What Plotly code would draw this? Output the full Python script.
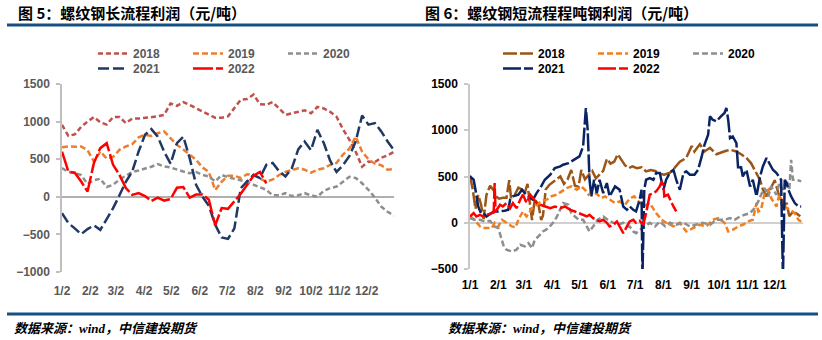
import pandas as pd
import plotly.graph_objects as go

# ---------------- data ----------------
YEARS = ["2018", "2019", "2020", "2021", "2022"]

# Left chart (图5): weekly readings starting 1/2
L_START = "2022-01-02"
L_2018 = [957, 810, 830, 930, 1000, 1060, 990, 960, 1060, 1060, 980, 1040, 1040, 1050, 1060, 1070, 1090, 1240,
          1210, 1260, 1220, 1175, 1130, 1090, 1050, 1050, 1070, 1180, 1290, 1300, 1360, 1230, 1225, 1260, 1180,
          1090, 1110, 1130, 1150, 1110, 1195, 1175, 1130, 1065, 900, 760, 600, 400, 470, 460, 520, 550, 600]
L_2019 = [660, 669, 665, 669, 620, 470, 600, 510, 530, 625, 669, 700, 790, 824, 810, 846, 870, 780, 690, 630,
          560, 492, 390, 330, 90, 200, 280, 280, 250, 300, 290, 250, 200, 230, 290, 330, 350, 380, 360, 320,
          360, 380, 425, 450, 560, 640, 800, 600, 500, 440, 420, 360, 370]
L_2020 = [381, 330, 314, 290, 170, 220, 240, 130, 160, 230, 280, 330, 350, 370, 400, 434, 403, 390, 359, 336,
          314, 330, 292, 270, 204, 290, 260, 240, 210, 200, 160, 130, 93, 20, 20, 48, 10, 20, 48, 20,
          0, 80, 115, 137, 200, 265, 250, 180, 93, -10, -130, -200, -250]
L_2021 = [-218, -350, -420, -497, -430, -380, -440, -300, -151, 20, 200, 336, 603, 824, 900, 800, 600, 440,
          713, 800, 514, 160, 0, -120, -373, -540, -560, -420, 115, 204, 292, 250, 425, 450, 340, 270, 380,
          630, 735, 620, 890, 715, 480, 330, 420, 540, 735, 1080, 960, 980, 870, 735, 620]
L_2022 = [600, 336, 320, 204, 70, 450, 647, 713, 425, 292, 115, 26, 50, 10, -55, -10, -50, -30, 120, 130,
          -10, 30, 30, -40, -380, -150, -160, -60, 40, 160, 280, 330, 180] + [None] * 20
L_TICK_DATES = ["2022-01-02", "2022-02-02", "2022-03-02", "2022-04-02", "2022-05-02", "2022-06-02",
                "2022-07-02", "2022-08-02", "2022-09-02", "2022-10-02", "2022-11-02", "2022-12-02"]
L_TICK_TEXT = ["1/2", "2/2", "3/2", "4/2", "5/2", "6/2", "7/2", "8/2", "9/2", "10/2", "11/2", "12/2"]

# Right chart (图6): readings as (day of year offset, value)
R_START = "2022-01-01"
R_2018_DAYS = [0, 3, 6, 9, 12, 15, 18, 22, 26, 29, 32, 36, 40, 43, 45, 49, 53, 57, 60, 63, 66, 68, 71, 75, 78,
               80, 83, 87, 91, 95, 99, 103, 107, 111, 115, 119, 122, 126, 130, 134, 138, 142, 146, 150, 154,
               158, 162, 166, 170, 174, 178, 183, 188, 193, 198, 203, 208, 213, 219, 224, 230, 237, 243, 246,
               252, 257, 263, 270, 275, 280, 285, 292, 298, 303, 308, 312, 318, 321, 325, 329, 334, 338, 343,
               347, 350, 354, 358, 362]
R_2018_VALS = [510, 360, 150, 300, 200, 40, 300, 400, 350, 280, 260, 270, 270, 460, 270, 300, 380, 360, 320,
               420, 180, 30, 250, 200, 30, 80, 360, 410, 440, 470, 500, 420, 470, 570, 400, 390, 570, 470, 520,
               560, 480, 520, 560, 690, 640, 660, 740, 680, 620, 590, 610, 590, 600, 555, 570, 560, 530, 520,
               540, 590, 660, 700, 830, 770, 850, 770, 810, 740, 760, 775, 790, 770, 735, 700, 645, 570, 460,
               360, 285, 360, 460, 320, 160, 215, 70, 120, 100, 70]
R_2019_DAYS = [0, 5, 11, 16, 24, 27, 31, 35, 40, 46, 50, 53, 58, 62, 68, 73, 78, 84, 89, 95, 100, 106, 111,
               117, 122, 126, 130, 135, 140, 144, 148, 153, 159, 164, 170, 175, 180, 185, 190, 197, 204, 210,
               215, 223, 230, 237, 245, 252, 259, 266, 272, 279, 283, 288, 294, 299, 305, 310, 314, 316, 319,
               323, 327, 330, 336, 339, 345, 350, 356, 360, 363]
R_2019_VALS = [68, 32, -40, -58, -58, 0, -40, 32, 0, -40, -50, 32, 122, 68, 158, 194, 230, 249, 285, 303, 339,
               375, 393, 357, 393, 357, 303, 339, 303, 267, 285, 249, 213, 230, 194, 260, 285, 230, 176, 213,
               104, 32, 0, -40, 0, -94, -58, -22, -40, 32, 50, 0, -94, -76, -40, -22, 14, 32, 213, 122, 140,
               321, 357, 267, 176, 303, 176, 140, 104, 32, 14]
R_2020_DAYS = [0, 5, 11, 16, 22, 27, 31, 35, 37, 40, 46, 51, 55, 60, 64, 68, 71, 75, 80, 86, 91, 95, 99, 102,
               108, 111, 115, 119, 124, 128, 131, 135, 140, 146, 151, 157, 162, 168, 173, 175, 179, 182, 187,
               192, 197, 203, 208, 214, 219, 226, 234, 241, 248, 255, 263, 270, 279, 285, 290, 296, 301, 307,
               312, 316, 319, 323, 327, 330, 336, 339, 343, 347, 350, 352, 354, 358, 363]
R_2020_VALS = [50, 32, 32, 14, 20, -40, -58, -184, -256, -292, -310, -292, -238, -256, -220, -274, -184, -148,
               -94, -58, 0, 60, 140, 213, 194, 104, 68, 32, 32, -40, -94, -40, 32, 68, 32, 0, -22, 0, -40, -40,
               -94, -112, -70, -40, 0, -40, 14, -40, 0, -22, 0, -40, -22, 0, -22, 32, 32, 50, 32, 68, 86, 104,
               158, 230, 303, 375, 285, 393, 303, 429, 357, 465, 357, 681, 465, 465, 447]
R_2021_DAYS = [0, 4, 6, 9, 12, 15, 18, 21, 26, 31, 35, 38, 42, 44, 47, 53, 57, 60, 66, 69, 73, 78, 82, 88, 93,
               99, 102, 108, 111, 117, 120, 124, 127, 129, 131, 133, 136, 139, 142, 146, 150, 153, 159, 164,
               168, 172, 175, 179, 182, 186, 188, 189, 191, 193, 197, 201, 204, 208, 212, 215, 219, 223, 226,
               230, 234, 237, 241, 246, 250, 254, 257, 261, 263, 266, 270, 275, 279, 281, 283, 285, 288, 292,
               294, 297, 299, 303, 307, 310, 314, 318, 321, 325, 329, 332, 336, 339, 341, 343, 345, 347, 349,
               352, 356, 360, 363]
R_2021_VALS = [500, 465, 357, 176, 104, 104, 68, 90, 122, 122, 122, 130, 140, 250, 285, 303, 357, 321, 267,
               249, 321, 393, 465, 519, 591, 609, 627, 645, 663, 699, 717, 825, 1240, 1005, 465, 285, 465, 321,
               465, 321, 429, 285, 393, 357, 176, 140, 176, 140, 122, 249, 357, -600, 357, 465, 483, 465, 537,
               537, 357, 465, 537, 573, 465, 357, 537, 555, 519, 519, 573, 717, 843, 951, 1150, 1114, 1096,
               1150, 1186, 1240, 1114, 915, 933, 861, 573, 609, 501, 573, 393, 465, 285, 501, 609, 699, 627,
               573, 537, 501, 465, -600, 465, 429, 357, 285, 213, 176, 176]
R_2022_DAYS = [0, 4, 7, 11, 14, 18, 24, 26, 27, 28, 33, 36, 40, 44, 47, 51, 55, 58, 62, 66, 69, 73, 77, 82,
               88, 93, 99, 104, 110, 115, 120, 124, 128, 131, 135, 139, 142, 146, 150, 153, 157, 161, 164, 168,
               172, 175, 179, 182, 186, 190, 193, 197, 201, 204, 208, 210, 212, 213, 217, 221, 223, 226]
R_2022_VALS = [68, 104, 68, 86, 68, 86, 104, 110, 429, 122, 194, 176, 213, 158, 213, 158, 249, 303, 213, 303,
               267, 213, 194, 176, 158, 176, 158, 176, 140, 122, 104, 86, 68, 86, 50, 32, 14, 32, 0, -40, -22,
               14, -40, -112, -40, 14, 32, 0, 20, -22, 104, 303, 321, 339, 393, 447, 411, 285, 303, 213, 176,
               122]
R_TICK_DATES = ["2022-01-01", "2022-02-01", "2022-03-01", "2022-04-01", "2022-05-01", "2022-06-01",
                "2022-07-01", "2022-08-01", "2022-09-01", "2022-10-01", "2022-11-01", "2022-12-01"]
R_TICK_TEXT = ["1/1", "2/1", "3/1", "4/1", "5/1", "6/1", "7/1", "8/1", "9/1", "10/1", "11/1", "12/1"]

# ---------------- styles ----------------
W, H = 822, 340
L_COLORS = ["#C0504D", "#ED7D31", "#8E8E8E", "#203864", "#FF0000"]
L_DASH = ["5px,3px", "6px,3px", "5px,3px", "11px,4px", "20px,3px"]
R_COLORS = ["#9C5516", "#F07F1E", "#8E8E8E", "#0A2463", "#FF0000"]
R_DASH = ["14px,3px", "6px,3px", "6px,3px", "18px,3px", "18px,3px"]
GRAY_TXT = "#595959"
RULE = "#165083"
LW = 2.5


def px_x(p):
    return p / W


def px_y(p):
    return 1 - p / H


fig = go.Figure()

l_dates = pd.date_range(L_START, periods=len(L_2018), freq="7D")
left_series = [L_2018, L_2019, L_2020, L_2021, L_2022]
for i, (name, vals) in enumerate(zip(YEARS, left_series)):
    fig.add_trace(go.Scatter(
        x=l_dates, y=vals, name=name, mode="lines",
        line=dict(color=L_COLORS[i], width=LW, dash=L_DASH[i]),
        xaxis="x", yaxis="y", legend="legend" if i < 3 else "legend2",
        connectgaps=False, hoverinfo="skip"))

r_start = pd.Timestamp(R_START)
right_series = [(R_2018_DAYS, R_2018_VALS), (R_2019_DAYS, R_2019_VALS), (R_2020_DAYS, R_2020_VALS),
                (R_2021_DAYS, R_2021_VALS), (R_2022_DAYS, R_2022_VALS)]
for i, (name, (days, vals)) in enumerate(zip(YEARS, right_series)):
    xs = [r_start + pd.Timedelta(days=d) for d in days]
    fig.add_trace(go.Scatter(
        x=xs, y=vals, name=name, mode="lines",
        line=dict(color=R_COLORS[i], width=LW, dash=R_DASH[i]),
        xaxis="x2", yaxis="y2", legend="legend3" if i < 3 else "legend4",
        hoverinfo="skip"))

tick_font_l = dict(family="Liberation Sans", size=12, color=GRAY_TXT, weight="bold")
tick_font_r = dict(family="Liberation Sans", size=12, color="#000000", weight="bold")

common_x = dict(type="date", showgrid=False, showline=False, zeroline=False, ticks="", tickangle=0,
                fixedrange=True)
common_y = dict(showgrid=False, showline=True, linewidth=1.5, ticks="outside", ticklen=4,
                tickwidth=1.5, dtick=500, zeroline=True, zerolinewidth=2, fixedrange=True,
                ticklabelstandoff=4)

fig.update_layout(
    width=W, height=H, autosize=False,
    margin=dict(l=0, r=0, t=0, b=0, autoexpand=False),
    paper_bgcolor="white", plot_bgcolor="white",
    showlegend=True,
    xaxis=dict(domain=[px_x(62), px_x(394)], range=["2022-01-02", "2023-01-01"], anchor="y",
               tickvals=L_TICK_DATES, ticktext=L_TICK_TEXT, tickfont=tick_font_l, ticklabelstandoff=10,
               **common_x),
    yaxis=dict(domain=[px_y(272), px_y(84)], range=[-1000, 1500], anchor="x",
               linecolor="#BFBFBF", tickcolor="#BFBFBF", zerolinecolor="#B0B0B0",
               tickfont=tick_font_l, **common_y),
    xaxis2=dict(domain=[px_x(470), px_x(803)], range=["2022-01-01", "2023-01-01"], anchor="y2",
                tickvals=R_TICK_DATES, ticktext=R_TICK_TEXT, tickfont=tick_font_r, ticklabelstandoff=7,
                **common_x),
    yaxis2=dict(domain=[px_y(269), px_y(84)], range=[-500, 1500], anchor="x2",
                linecolor="#C8C8C8", tickcolor="#C8C8C8", zerolinecolor="#D0D0D0",
                tickfont=tick_font_r, **common_y),
)

leg_common = dict(orientation="h", entrywidth=50, entrywidthmode="pixels", bgcolor="rgba(0,0,0,0)",
                  borderwidth=0, xanchor="left", yanchor="top", itemclick=False, itemdoubleclick=False,
                  tracegroupgap=0)
fig.update_layout(
    legend=dict(x=px_x(93), y=px_y(39), font=dict(family="Liberation Sans", size=12, color=GRAY_TXT,
                                                   weight="bold"), **leg_common),
    legend2=dict(x=px_x(93), y=px_y(54), font=dict(family="Liberation Sans", size=12, color=GRAY_TXT,
                                                    weight="bold"), **leg_common),
    legend3=dict(x=px_x(498), y=px_y(39), font=dict(family="Liberation Sans", size=12, color="#000000",
                                                     weight="bold"), **leg_common),
    legend4=dict(x=px_x(498), y=px_y(54), font=dict(family="Liberation Sans", size=12, color="#000000",
                                                     weight="bold"), **leg_common),
)

title_font = dict(family="Noto Sans CJK SC", size=15, color="#000000", weight="bold")
src_font = dict(family="Liberation Serif, Noto Sans CJK SC", size=13, color="#000000", weight="bold",
                style="italic")
fig.add_annotation(text="图 5：螺纹钢长流程利润（元/吨）", x=px_x(16), y=px_y(13), xref="paper", yref="paper",
                   xanchor="left", yanchor="middle", showarrow=False, font=title_font)
fig.add_annotation(text="图 6：螺纹钢短流程程吨钢利润（元/吨）", x=px_x(423), y=px_y(13), xref="paper",
                   yref="paper", xanchor="left", yanchor="middle", showarrow=False, font=title_font)
fig.add_annotation(text="数据来源：wind，中信建投期货", x=px_x(12), y=px_y(328), xref="paper", yref="paper",
                   xanchor="left", yanchor="middle", showarrow=False, font=src_font)
fig.add_annotation(text="数据来源：wind，中信建投期货", x=px_x(446), y=px_y(328), xref="paper", yref="paper",
                   xanchor="left", yanchor="middle", showarrow=False, font=src_font)

for yy in (25, 314):
    fig.add_shape(type="line", xref="paper", yref="paper", x0=px_x(7), x1=px_x(818), y0=px_y(yy), y1=px_y(yy),
                  line=dict(color=RULE, width=3))

fig.write_html("out.html", config={"displayModeBar": False})
